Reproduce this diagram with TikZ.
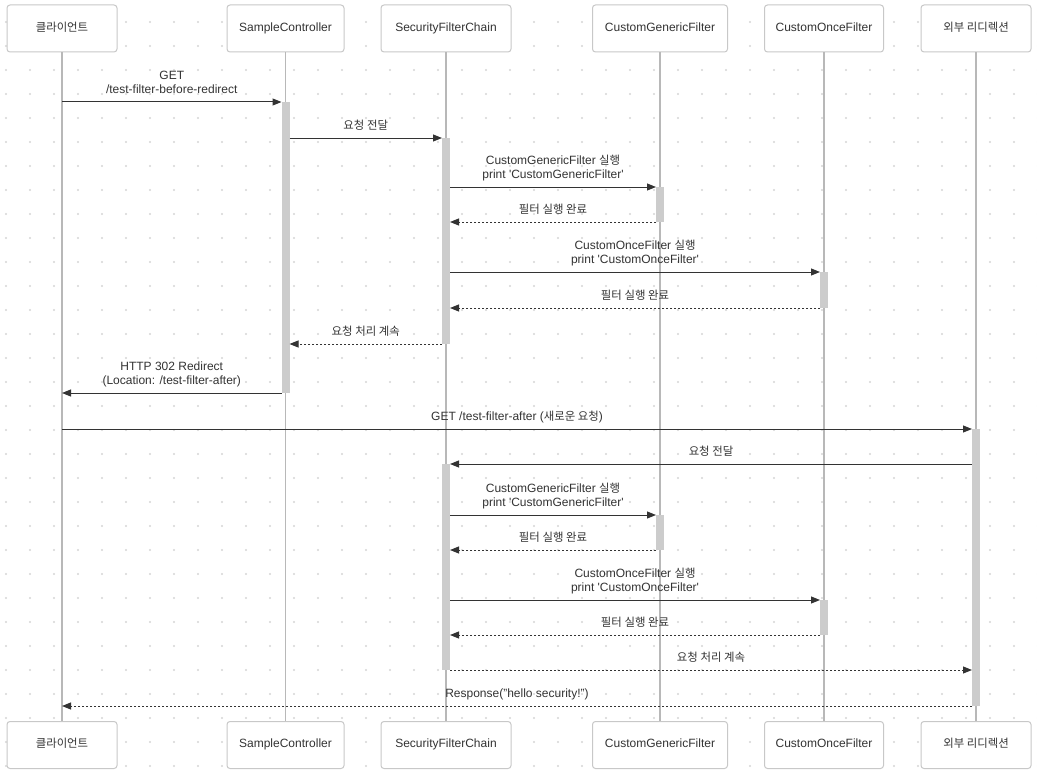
\documentclass[tikz,border=0pt]{standalone}
\usepackage{fontspec}
\setmainfont{Liberation Sans}
\newfontfamily\kr[Scale=0.95]{Noto Sans CJK KR}
\usetikzlibrary{arrows.meta,calc}
\definecolor{txt}{HTML}{333333}
\definecolor{boxline}{HTML}{C8C8C8}
\definecolor{lifec}{HTML}{B8B8B8}
\definecolor{actc}{HTML}{CCCCCC}
\definecolor{dotc}{HTML}{D6D6D6}
\definecolor{msgc}{HTML}{333333}
\newcommand{\sq}{\textquotesingle}
\newcommand{\K}[1]{\raisebox{0pt}[\height][0pt]{\kr #1}}
\tikzset{
  pbox/.style={draw=boxline, line width=1pt, fill=white, rounded corners=3pt,
    minimum height=47pt, inner sep=0pt, font=\fontsize{12}{14}\selectfont, text=txt,
    text height=8.5pt, text depth=3pt},
  life/.style={draw=lifec, line width=1.5pt},
  actbar/.style={fill=actc, draw=none, minimum width=8pt, inner sep=0pt, outer sep=0pt, anchor=north},
  msg/.style={draw=msgc, line width=1pt, -{Triangle[length=9pt,width=7pt]}},
  ret/.style={msg, dash pattern=on 2pt off 2pt},
  lbl/.style={midway, anchor=south, inner sep=0pt, yshift=6pt, align=center,
    font=\fontsize{12}{14}\selectfont, text=txt, execute at end node={\vphantom{g}}}
}
\begin{document}
\begin{tikzpicture}[x=1pt,y=-1pt]
\fill[white] (0,0) rectangle (1037,776);
\useasboundingbox (0,0) rectangle (1037,776);
% dot grid
\foreach \i in {0,...,43}{
  \foreach \j in {0,...,31}{
    \fill[dotc] ({6+24*\i},{22+24*\j}) circle (1.2);
  }
}
% participants top
\node[pbox, minimum width=110pt] (cT) at (62,28.5) {\K{클라이언트}};
\node[pbox, minimum width=117pt] (sT) at (285.5,28.5) {SampleController};
\node[pbox, minimum width=130pt] (fT) at (446,28.5) {SecurityFilterChain};
\node[pbox, minimum width=135pt] (gT) at (660,28.5) {CustomGenericFilter};
\node[pbox, minimum width=119pt] (oT) at (824,28.5) {CustomOnceFilter};
\node[pbox, minimum width=110pt] (eT) at (976,28.5) {\K{외부 리디렉션}};
% participants bottom
\node[pbox, minimum width=110pt] (cB) at (62,745) {\K{클라이언트}};
\node[pbox, minimum width=117pt] (sB) at (285.5,745) {SampleController};
\node[pbox, minimum width=130pt] (fB) at (446,745) {SecurityFilterChain};
\node[pbox, minimum width=135pt] (gB) at (660,745) {CustomGenericFilter};
\node[pbox, minimum width=119pt] (oB) at (824,745) {CustomOnceFilter};
\node[pbox, minimum width=110pt] (eB) at (976,745) {\K{외부 리디렉션}};
% lifelines
\draw[life] (cT.south) -- (cB.north);
\draw[life] (sT.south) -- (sB.north);
\draw[life] (fT.south) -- (fB.north);
\draw[life] (gT.south) -- (gB.north);
\draw[life] (oT.south) -- (oB.north);
\draw[life] (eT.south) -- (eB.north);
% activation bars
\node[actbar, minimum height=291pt] (sA)  at (285.5,102) {};
\node[actbar, minimum height=206pt] (fA1) at (446,138) {};
\node[actbar, minimum height=35pt]  (gA1) at (660,187) {};
\node[actbar, minimum height=36pt]  (oA1) at (824,272) {};
\node[actbar, minimum height=277pt] (eA)  at (976,429) {};
\node[actbar, minimum height=206pt] (fA2) at (446,464) {};
\node[actbar, minimum height=35pt]  (gA2) at (660,515) {};
\node[actbar, minimum height=35pt]  (oA2) at (824,600) {};
% messages
\draw[msg] (cT.south |- sA.north) -- node[lbl]{GET\\/test-filter-before-redirect} (sA.north west);
\draw[msg] (sA.east |- fA1.north) -- node[lbl]{\K{요청 전달}} (fA1.north west);
\draw[msg] (fA1.east |- gA1.north) -- node[lbl]{CustomGenericFilter \K{실행}\\print \sq CustomGenericFilter\sq} (gA1.north west);
\draw[ret] (gA1.south west) -- node[lbl]{\K{필터 실행 완료}} (fA1.east |- gA1.south);
\draw[msg] (fA1.east |- oA1.north) -- node[lbl]{CustomOnceFilter \K{실행}\\print \sq CustomOnceFilter\sq} (oA1.north west);
\draw[ret] (oA1.south west) -- node[lbl]{\K{필터 실행 완료}} (fA1.east |- oA1.south);
\draw[ret] (fA1.south west) -- node[lbl]{\K{요청 처리 계속}} (sA.east |- fA1.south);
\draw[msg] (sA.south west) -- node[lbl]{HTTP 302 Redirect\\(Location: /test-filter-after)} (cT.south |- sA.south);
\draw[msg] (cT.south |- eA.north) -- node[lbl]{GET /test-filter-after (\K{새로운 요청})} (eA.north west);
\draw[msg] (eA.west |- fA2.north) -- node[lbl]{\K{요청 전달}} (fA2.north east);
\draw[msg] (fA2.east |- gA2.north) -- node[lbl]{CustomGenericFilter \K{실행}\\print \sq CustomGenericFilter\sq} (gA2.north west);
\draw[ret] (gA2.south west) -- node[lbl]{\K{필터 실행 완료}} (fA2.east |- gA2.south);
\draw[msg] (fA2.east |- oA2.north) -- node[lbl]{CustomOnceFilter \K{실행}\\print \sq CustomOnceFilter\sq} (oA2.north west);
\draw[ret] (oA2.south west) -- node[lbl]{\K{필터 실행 완료}} (fA2.east |- oA2.south);
\draw[ret] (fA2.south east) -- node[lbl]{\K{요청 처리 계속}} (eA.west |- fA2.south);
\draw[ret] (eA.south west) -- node[lbl]{Response("hello security!")} (cT.south |- eA.south);
\end{tikzpicture}
\end{document}
